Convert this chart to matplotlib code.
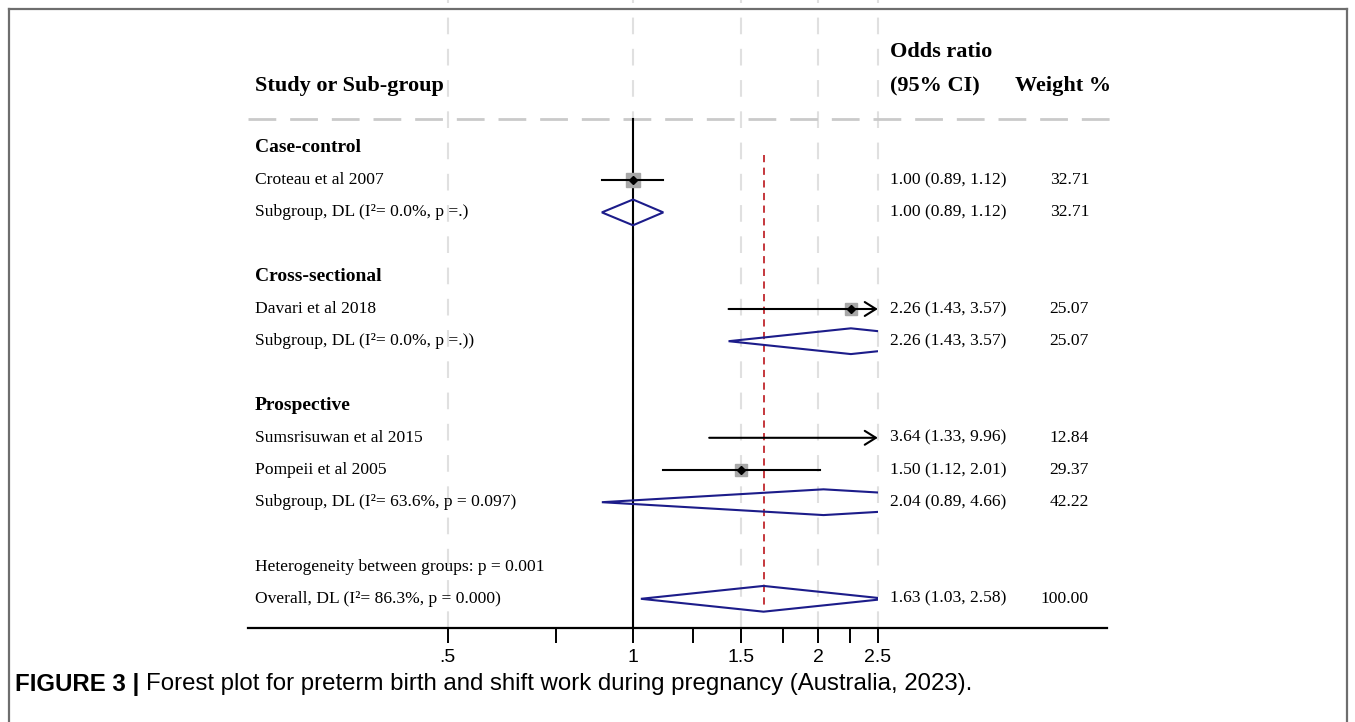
import numpy as np
import matplotlib
matplotlib.use("Agg")
import matplotlib.pyplot as plt
from matplotlib.patches import Rectangle, Polygon
from matplotlib.lines import Line2D
import matplotlib.transforms as mtransforms

# ---------------- data ----------------
groups = ["Case-control", "Cross-sectional", "Prospective"]
study_names = ["Croteau et al 2007", "Davari et al 2018", "Sumsrisuwan et al 2015", "Pompeii et al 2005"]
study_group = [0, 1, 2, 2]
study_or = [1.00, 2.26, 3.64, 1.50]
study_lo = [0.89, 1.43, 1.33, 1.12]
study_hi = [1.12, 3.57, 9.96, 2.01]
study_w = [32.71, 25.07, 12.84, 29.37]

sub_labels = ["Subgroup, DL (I\u00b2= 0.0%, p =.)",
              "Subgroup, DL (I\u00b2= 0.0%, p =.))",
              "Subgroup, DL (I\u00b2= 63.6%, p = 0.097)"]
sub_or = [1.00, 2.26, 2.04]
sub_lo = [0.89, 1.43, 0.89]
sub_hi = [1.12, 3.57, 4.66]
sub_w = [32.71, 25.07, 42.22]

het_label = "Heterogeneity between groups: p = 0.001"
overall_label = "Overall, DL (I\u00b2= 86.3%, p = 0.000)"
overall_or, overall_lo, overall_hi, overall_w = 1.63, 1.03, 2.58, 100.00

xticks_major = [0.5, 1, 1.5, 2, 2.5]
xtick_labels = [".5", "1", "1.5", "2", "2.5"]
xticks_minor = [0.75, 1.25, 1.75, 2.25]
plot_xmax = 2.5

# ---------------- layout ----------------
W, H = 1355, 722
fig = plt.figure(figsize=(W / 100, H / 100), dpi=100)

px_per_ln = 267.2
x1_px = 633.0
ax_left_px, ax_right_px = 248, 1107
ax_bottom_px = 628
row1_px, row_h = 148.0, 32.2

def px_to_row(p):
    return 1 + (p - row1_px) / row_h

ax = fig.add_axes([ax_left_px / W, 1 - ax_bottom_px / H, (ax_right_px - ax_left_px) / W, ax_bottom_px / H])
ax.set_xscale("log")
ax.set_xlim(np.exp((ax_left_px - x1_px) / px_per_ln), np.exp((ax_right_px - x1_px) / px_per_ln))
ax.set_ylim(px_to_row(ax_bottom_px), px_to_row(0))
ax.set_facecolor("none")

for s in ["top", "left", "right"]:
    ax.spines[s].set_visible(False)
ax.spines["bottom"].set_linewidth(1.6)
ax.yaxis.set_visible(False)

ax.xaxis.set_major_locator(matplotlib.ticker.FixedLocator(xticks_major))
ax.xaxis.set_major_formatter(matplotlib.ticker.FixedFormatter(xtick_labels))
ax.xaxis.set_minor_locator(matplotlib.ticker.FixedLocator(xticks_minor))
ax.xaxis.set_minor_formatter(matplotlib.ticker.NullFormatter())
ax.tick_params(axis="x", which="both", direction="out", length=11, width=1.4, color="black")
ax.tick_params(axis="x", which="major", pad=4, labelsize=14)
for lab in ax.get_xticklabels():
    lab.set_family("Liberation Sans")

# gridlines at major ticks
for xv in xticks_major:
    ax.axvline(xv, color="#e0e0e0", lw=1.5, dashes=(8, 7), zorder=0)

# header dashed line
hdr_y = px_to_row(119)
ax.plot([ax.get_xlim()[0], np.exp((1112 - x1_px) / px_per_ln)], [hdr_y, hdr_y],
        color="#cacaca", lw=2, dashes=(10, 5), clip_on=False, zorder=1)

# null line
ax.plot([1, 1], [hdr_y, px_to_row(ax_bottom_px)], color="black", lw=1.5, zorder=2)

# clip rectangle for marks (plot region ends at 2.5)
clip_rect = Rectangle((ax.get_xlim()[0], -10), plot_xmax - ax.get_xlim()[0], 40,
                      transform=ax.transData, visible=False)
ax.add_patch(clip_rect)

# ---------------- rows ----------------
rows = []
r = 1
row_of_study = {}
row_of_sub = {}
for g, gname in enumerate(groups):
    rows.append((r, gname, "group"))
    r += 1
    for i, sg in enumerate(study_group):
        if sg == g:
            row_of_study[i] = r
            rows.append((r, study_names[i], "study"))
            r += 1
    row_of_sub[g] = r
    rows.append((r, sub_labels[g], "sub"))
    r += 2
het_row = r
overall_row = r + 1

serif = "Liberation Serif"
label_tr = mtransforms.blended_transform_factory(fig.transFigure, ax.transData)
lab_x = 255 / W
or_x = 890 / W
w_x = 1089 / W
fs = 12.6

for (rr, txt, kind) in rows:
    if kind == "group":
        ax.text(lab_x, rr, txt, transform=label_tr, family=serif, fontweight="bold",
                fontsize=14, va="center", ha="left")
    else:
        ax.text(lab_x, rr, txt, transform=label_tr, family=serif, fontsize=fs,
                va="center", ha="left")
ax.text(lab_x, het_row, het_label, transform=label_tr, family=serif, fontsize=fs, va="center")
ax.text(lab_x, overall_row, overall_label, transform=label_tr, family=serif, fontsize=fs, va="center")

# headers
ax.text(lab_x, px_to_row(86), "Study or Sub-group", transform=label_tr, family=serif,
        fontweight="bold", fontsize=16, va="center")
ax.text(or_x, px_to_row(52), "Odds ratio", transform=label_tr, family=serif,
        fontweight="bold", fontsize=16, va="center")
ax.text(or_x, px_to_row(86), "(95% CI)", transform=label_tr, family=serif,
        fontweight="bold", fontsize=16, va="center")
ax.text(1015 / W, px_to_row(86), "Weight %", transform=label_tr, family=serif,
        fontweight="bold", fontsize=16, va="center")

def right_cols(rr, est, lo, hi, w):
    ax.text(or_x, rr, f"{est:.2f} ({lo:.2f}, {hi:.2f})", transform=label_tr, family=serif,
            fontsize=fs, va="center")
    ax.text(w_x, rr, f"{w:.2f}", transform=label_tr, family=serif, fontsize=fs,
            va="center", ha="right")

# studies
box_color = "#a8a8a8"
base_box_pt = 9.4
for i in range(len(study_names)):
    rr = row_of_study[i]
    lo, hi, est = study_lo[i], study_hi[i], study_or[i]
    ms = base_box_pt * np.sqrt(study_w[i] / study_w[0])
    m1, = ax.plot([est], [rr], marker="s", ms=ms, color=box_color, mec=box_color, zorder=3, ls="none")
    m2, = ax.plot([est], [rr], marker="D", ms=4.0, color="black", zorder=5, ls="none")
    m1.set_clip_path(clip_rect)
    m2.set_clip_path(clip_rect)
    if hi > plot_xmax:
        ax.annotate("", xy=(plot_xmax, rr), xytext=(lo, rr),
                    arrowprops=dict(arrowstyle="->,head_length=0.8,head_width=0.5",
                                    color="black", lw=1.5, shrinkA=0, shrinkB=0),
                    zorder=4)
    else:
        ax.plot([lo, hi], [rr, rr], color="black", lw=1.5, zorder=4)
    right_cols(rr, est, lo, hi, study_w[i])

# diamonds
dia_color = "#1c1c8a"
dh = 0.4

def diamond(rr, est, lo, hi):
    poly = Polygon([[lo, rr], [est, rr - dh], [hi, rr], [est, rr + dh]], closed=True,
                   fill=False, edgecolor=dia_color, lw=1.5, zorder=4)
    ax.add_patch(poly)
    poly.set_clip_path(clip_rect)

for g in range(len(groups)):
    rr = row_of_sub[g]
    diamond(rr, sub_or[g], sub_lo[g], sub_hi[g])
    right_cols(rr, sub_or[g], sub_lo[g], sub_hi[g], sub_w[g])

diamond(overall_row, overall_or, overall_lo, overall_hi)
right_cols(overall_row, overall_or, overall_lo, overall_hi, overall_w)

# overall effect line
ax.plot([overall_or, overall_or], [px_to_row(155), px_to_row(610)], color="#c0282d",
        lw=1.3, dashes=(4, 3), zorder=3)

# ---------------- frame & caption ----------------
fr = dict(color="#6e6e6e", lw=1.6, transform=fig.transFigure)
fig.add_artist(Line2D([9 / W, 1347 / W], [1 - 9 / H, 1 - 9 / H], **fr))
fig.add_artist(Line2D([9 / W, 9 / W], [1 - 9 / H, 0], **fr))
fig.add_artist(Line2D([1347 / W, 1347 / W], [1 - 9 / H, 0], **fr))

cap_y = 1 - 684 / H
cap_fs = 17.3
t1 = fig.text(15 / W, cap_y, "FIGURE 3 | ", family="Liberation Sans", fontweight="bold",
              fontsize=cap_fs, va="center", ha="left")
fig.canvas.draw()
bb = t1.get_window_extent()
fig.text(bb.x1 / W, cap_y, "Forest plot for preterm birth and shift work during pregnancy (Australia, 2023).",
         family="Liberation Sans", fontsize=cap_fs, va="center", ha="left")

fig.savefig("out.png", dpi=100)
